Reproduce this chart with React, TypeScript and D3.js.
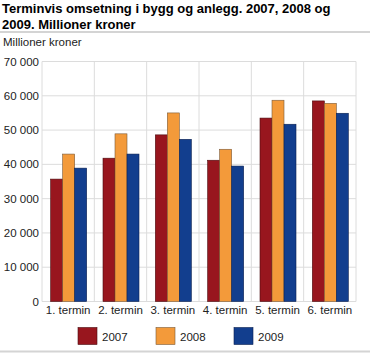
import React from "react";
import * as d3 from "d3";

const categories = ["1. termin", "2. termin", "3. termin", "4. termin", "5. termin", "6. termin"];
const seriesNames = ["2007", "2008", "2009"];
const values2007 = [35700, 41800, 48600, 41200, 53500, 58500];
const values2008 = [43000, 48900, 55000, 44400, 58700, 57800];
const values2009 = [38900, 43000, 47300, 39500, 51700, 54900];
const yTicks = [0, 10000, 20000, 30000, 40000, 50000, 60000, 70000];
const colors = ["#98161e", "#f39a3a", "#123e8e"];
const strokes = ["#4a0a0e", "#7a5a3a", "#0a2050"];

export default function App() {
  const W = 370, H = 357;
  const left = 42, right = 356, top = 61.5, bottom = 301.5;
  const x = d3.scaleBand().domain(categories).range([left, right]).padding(0);
  const y = d3.scaleLinear().domain([0, 70000]).range([bottom, top]);
  const inner = d3.scaleBand().domain(seriesNames).range([0, 36]).padding(0);
  const series = [values2007, values2008, values2009];
  const fmt = (v: number) => d3.format(",")(v).replace(/,/g, " ");
  const font = "Liberation Sans, Arial, sans-serif";
  return (
    <svg width={W} height={H} style={{ position: "absolute", left: 0, top: 0, fontFamily: font }}>
      <rect x={0} y={0} width={W} height={H} fill="#fff" />
      <text x={2} y={13} fontSize={13} fontWeight="bold" fill="#000">Terminvis omsetning i bygg og anlegg. 2007, 2008 og</text>
      <text x={2} y={28.5} fontSize={13} fontWeight="bold" fill="#000">2009. Millioner kroner</text>
      <rect x={0} y={31} width={W} height={2} fill="#d4d4d4" />
      <text x={3} y={46} fontSize={11.5} fill="#222">Millioner kroner</text>
      {yTicks.map((t) => (
        <g key={t}>
          <line x1={left} x2={right} y1={y(t)} y2={y(t)} stroke="#dcdcdc" strokeWidth={1} />
          <text x={39} y={y(t) + 4} fontSize={11.5} textAnchor="end" fill="#222">{fmt(t)}</text>
        </g>
      ))}
      {categories.map((c) => (
        <line key={"v" + c} x1={(x(c) as number) + x.bandwidth()} x2={(x(c) as number) + x.bandwidth()} y1={top} y2={bottom} stroke="#dcdcdc" />
      ))}
      <line x1={left} x2={left} y1={top} y2={bottom} stroke="#dcdcdc" />
      {categories.map((c, i) => {
        const gx = (x(c) as number) + x.bandwidth() / 2 - 17.5;
        return (
          <g key={c}>
            {series.map((s, k) => (
              <rect
                key={k}
                x={gx + (inner(seriesNames[k]) as number)}
                y={y(s[i])}
                width={inner.bandwidth()}
                height={bottom - y(s[i])}
                fill={colors[k]}
                stroke={strokes[k]}
                strokeWidth={0.6}
              />
            ))}
            <text x={(x(c) as number) + x.bandwidth() / 2} y={314} fontSize={11.5} textAnchor="middle" fill="#222">{c}</text>
          </g>
        );
      })}
      {seriesNames.map((n, k) => {
        const lx = [78, 156, 234][k];
        return (
          <g key={n}>
            <rect x={lx} y={327.5} width={19} height={17} fill={colors[k]} stroke={strokes[k]} strokeWidth={0.6} />
            <text x={lx + 24} y={341} fontSize={11.5} fill="#222">{n}</text>
          </g>
        );
      })}
      <rect x={0} y={350.5} width={W} height={2} fill="#d4d4d4" />
    </svg>
  );
}
